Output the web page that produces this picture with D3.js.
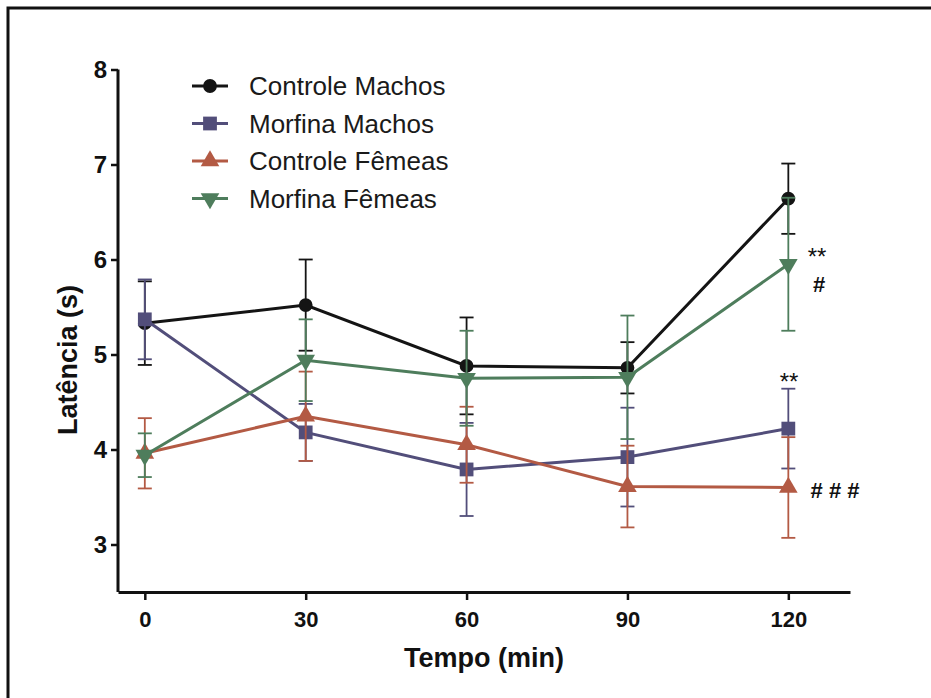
<!DOCTYPE html>
<html>
<head>
<meta charset="utf-8">
<script src="https://cdn.jsdelivr.net/npm/d3@7"></script>
<style>
  body { margin: 0; background: #fff; }
  svg { display: block; font-family: "Liberation Sans", Arial, sans-serif; }
</style>
</head>
<body>
<div id="chart"></div>
<script>
// data
const times = [0, 30, 60, 90, 120]
const seriesNames = ['Controle Machos', 'Morfina Machos', 'Controle Fêmeas', 'Morfina Fêmeas']
const controleMachos = [5.33, 5.52, 4.88, 4.86, 6.64]
const controleMachosErr = [0.44, 0.48, 0.51, 0.27, 0.37]
const morfinaMachos = [5.37, 4.18, 3.79, 3.92, 4.22]
const morfinaMachosErr = [0.42, 0.30, 0.49, 0.52, 0.42]
const controleFemeas = [3.96, 4.35, 4.05, 3.61, 3.60]
const controleFemeasErr = [0.37, 0.47, 0.40, 0.43, 0.53]
const morfinaFemeas = [3.94, 4.94, 4.75, 4.76, 5.95]
const morfinaFemeasErr = [0.23, 0.43, 0.50, 0.65, 0.70]
const yTicks = [3, 4, 5, 6, 7, 8]

const width = 931
const height = 698

const colors = ['#141414', '#524e7a', '#b35a44', '#4e7d5c']
const symbols = [d3.symbolCircle, d3.symbolSquare, d3.symbolTriangle, d3.symbolTriangle]
const symSizes = [150, 190, 150, 150]
const rotations = [0, 0, 0, 180]

const series = seriesNames.map((name, i) => ({
    name: name,
    values: [controleMachos, morfinaMachos, controleFemeas, morfinaFemeas][i],
    errs: [controleMachosErr, morfinaMachosErr, controleFemeasErr, morfinaFemeasErr][i],
    color: colors[i],
    symbol: symbols[i],
    size: symSizes[i],
    rot: rotations[i]
}))

let svg = d3.select('#chart')
    .append('svg')
    .attr('width', width)
    .attr('height', height)

// outer frame (clipped at right and bottom like the original)
svg.append('rect')
    .attr('x', 8)
    .attr('y', 8)
    .attr('width', 1200)
    .attr('height', 1200)
    .attr('fill', 'none')
    .attr('stroke', '#111')
    .attr('stroke-width', 3)

const xScale = d3.scaleLinear()
    .domain([-5, 131.5])
    .range([118, 850])

const yScale = d3.scaleLinear()
    .domain([2.5, 8])
    .range([592, 69.5])

// axes
let xAxis = d3.axisBottom(xScale)
    .tickValues(times)
    .tickFormat(d3.format('d'))
    .tickSize(8)
    .tickSizeOuter(0)
    .tickPadding(11)
let gx = svg.append('g')
    .attr('transform', 'translate(0,592)')
    .call(xAxis)
gx.select('.domain').attr('stroke', '#111').attr('stroke-width', 3)
gx.selectAll('.tick line').attr('stroke', '#111').attr('stroke-width', 2.5)
gx.selectAll('.tick text')
    .attr('fill', '#111')
    .style('font-size', '22px')
    .style('font-weight', 'bold')

let yAxis = d3.axisLeft(yScale)
    .tickValues(yTicks)
    .tickFormat(d3.format('d'))
    .tickSize(7)
    .tickSizeOuter(0)
    .tickPadding(4)
let gy = svg.append('g')
    .attr('transform', 'translate(118,0)')
    .call(yAxis)
gy.select('.domain')
    .attr('d', `M0,${yScale(8)}V${yScale(2.5)}`)
    .attr('stroke', '#111').attr('stroke-width', 3)
gy.selectAll('.tick line').attr('stroke', '#111').attr('stroke-width', 2.5)
gy.selectAll('.tick text')
    .attr('fill', '#111')
    .style('font-size', '24px')
    .style('font-weight', 'bold')

svg.append('text')
    .attr('x', 484)
    .attr('y', 667)
    .attr('text-anchor', 'middle')
    .style('font-size', '27px')
    .style('font-weight', 'bold')
    .attr('fill', '#111')
    .text('Tempo (min)')

svg.append('text')
    .attr('transform', 'translate(77,360) rotate(-90)')
    .attr('text-anchor', 'middle')
    .style('font-size', '27px')
    .style('font-weight', 'bold')
    .attr('fill', '#111')
    .text('Latência (s)')

// series: error bars, lines, markers
const line = d3.line()
    .x((d, i) => xScale(times[i]))
    .y(d => yScale(d))

const capW = 7

series.forEach(s => {
    let g = svg.append('g')
    let eb = g.selectAll('.err')
        .data(s.values.map((v, i) => ({ t: times[i], v: v, e: s.errs[i] })))
        .enter()
        .append('g')
        .attr('stroke', s.color)
        .attr('stroke-width', 1.8)
    eb.append('line')
        .attr('x1', d => xScale(d.t)).attr('x2', d => xScale(d.t))
        .attr('y1', d => yScale(d.v + d.e)).attr('y2', d => yScale(d.v - d.e))
    eb.append('line')
        .attr('x1', d => xScale(d.t) - capW).attr('x2', d => xScale(d.t) + capW)
        .attr('y1', d => yScale(d.v + d.e)).attr('y2', d => yScale(d.v + d.e))
    eb.append('line')
        .attr('x1', d => xScale(d.t) - capW).attr('x2', d => xScale(d.t) + capW)
        .attr('y1', d => yScale(d.v - d.e)).attr('y2', d => yScale(d.v - d.e))

    g.append('path')
        .datum(s.values)
        .attr('d', line)
        .attr('fill', 'none')
        .attr('stroke', s.color)
        .attr('stroke-width', 3)

    g.selectAll('.mark')
        .data(s.values)
        .enter()
        .append('path')
        .attr('d', d3.symbol().type(s.symbol).size(s.size))
        .attr('transform', (d, i) => `translate(${xScale(times[i])},${yScale(d)}) rotate(${s.rot})`)
        .attr('fill', s.color)
})

// legend
const legend = svg.append('g')
series.forEach((s, i) => {
    let y = 86 + i * 37.5
    legend.append('line')
        .attr('x1', 192).attr('x2', 228)
        .attr('y1', y).attr('y2', y)
        .attr('stroke', s.color)
        .attr('stroke-width', 3)
    legend.append('path')
        .attr('d', d3.symbol().type(s.symbol).size(s.size))
        .attr('transform', `translate(210,${y}) rotate(${s.rot})`)
        .attr('fill', s.color)
    legend.append('text')
        .attr('x', 249)
        .attr('y', y + 9)
        .style('font-size', '26px')
        .attr('fill', '#1a1a1a')
        .text(s.name)
})

// significance marks
const notes = [
    { x: 817, y: 265, t: '**', s: 24, w: 'normal' },
    { x: 819, y: 292, t: '#', s: 22, w: 'bold' },
    { x: 789, y: 390, t: '**', s: 24, w: 'normal' },
    { x: 835, y: 498, t: '# # #', s: 22, w: 'bold' }
]
svg.selectAll('.note')
    .data(notes)
    .enter()
    .append('text')
    .attr('x', d => d.x)
    .attr('y', d => d.y)
    .attr('text-anchor', 'middle')
    .style('font-size', d => d.s + 'px')
    .style('font-weight', d => d.w)
    .attr('fill', '#111')
    .text(d => d.t)
</script>
</body>
</html>
